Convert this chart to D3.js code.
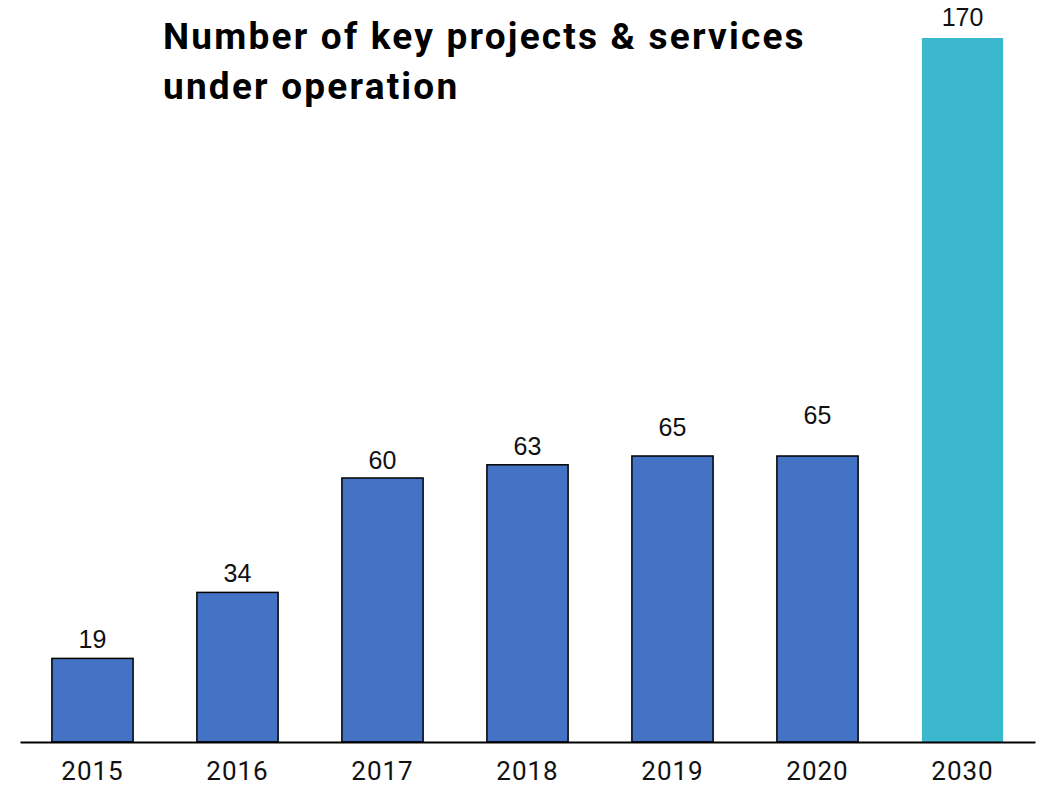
<!DOCTYPE html>
<html>
<head>
<meta charset="utf-8">
<script src="https://cdn.jsdelivr.net/npm/d3@7"></script>
<style>
  body { margin: 0; background: #fff; }
</style>
</head>
<body>
<svg id="chart" width="1040" height="787"></svg>
<script>
// chart data
var years = ['2015', '2016', '2017', '2018', '2019', '2020', '2030'];
var projects = [19, 34, 60, 63, 65, 65, 170];
var titleLines = ['Number of key projects & services', 'under operation'];

(function() {

    var svg = d3.select('#chart');

    var x = d3.scaleBand()
        .domain(years)
        .range([20, 1035])
        .paddingInner(0.44)
        .paddingOuter(0.22);

    // the 2030 bar runs off the top in the original, so clamp it
    var y = d3.scaleLinear()
        .domain([0, 160])
        .range([742, 38])
        .clamp(true);

    var data = years.map(function(d, i) { return {year: d, value: projects[i], i: i}; });
    var last = years.length - 1;

    svg.selectAll('.bar')
        .data(data)
      .enter().append('rect')
        .attr('class', 'bar')
        .attr('x', function(d) { return x(d.year); })
        .attr('width', x.bandwidth())
        .attr('y', function(d) { return y(d.value); })
        .attr('height', function(d) { return y(0) - y(d.value); })
        .attr('fill', function(d) { return d.i === last ? '#3bb8ce' : '#4472c4'; })
        .attr('stroke', function(d) { return d.i === last ? 'none' : '#000'; })
        .attr('stroke-width', 1.5);

    // labels sit a bit higher over the last blue bars in the original
    var lift = [10, 10, 9, 10, 20, 32, 12];

    svg.selectAll('.label')
        .data(data)
      .enter().append('text')
        .attr('class', 'label')
        .attr('x', function(d) { return x(d.year) + x.bandwidth() / 2; })
        .attr('y', function(d) { return y(d.value) - lift[d.i]; })
        .attr('text-anchor', 'middle')
        .style('font-family', '"Liberation Sans", Arial, sans-serif')
        .style('font-size', '25px')
        .style('fill', '#111')
        .text(function(d) { return d.value; });

    // x axis
    var xAxis = svg.append('g')
        .attr('transform', 'translate(0,' + y(0) + ')')
        .call(d3.axisBottom(x).tickSize(0).tickPadding(10).tickSizeOuter(0));

    xAxis.select('.domain')
        .attr('stroke', '#000')
        .attr('stroke-width', 2);

    xAxis.selectAll('text')
        .attr('dy', '0.71em')
        .attr('y', 20)
        .style('font-family', 'Roboto, sans-serif')
        .style('font-size', '26px')
        .style('letter-spacing', '1px')
        .style('fill', '#111');

    // title
    svg.selectAll('.title')
        .data(titleLines)
      .enter().append('text')
        .attr('class', 'title')
        .attr('x', 163)
        .attr('y', function(d, i) { return 49 + i * 50; })
        .style('font-family', 'Roboto, sans-serif')
        .style('font-weight', 'bold')
        .style('font-size', '37px')
        .style('letter-spacing', '2.2px')
        .style('fill', '#000')
        .text(function(d) { return d; });

})();
</script>
</body>
</html>
